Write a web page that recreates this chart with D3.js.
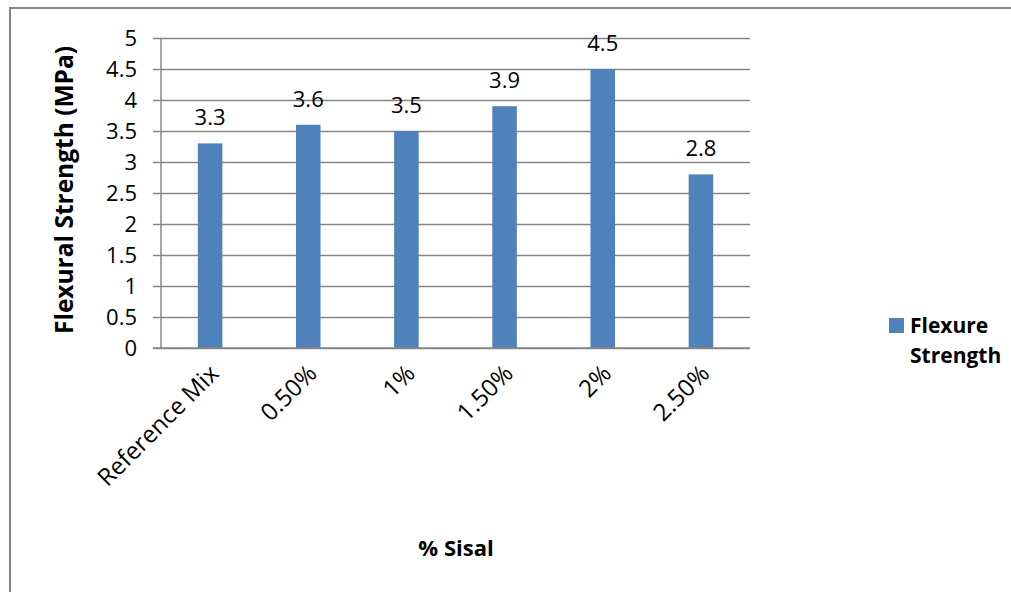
<!DOCTYPE html>
<html>
<head>
<meta charset="utf-8">
<script src="https://cdn.jsdelivr.net/npm/d3@7"></script>
<style>
  body { margin: 0; background: #fff; }
  text { font-family: "Open Sans", "Noto Sans", sans-serif; fill: #000; }
</style>
</head>
<body>
<div id="chart"></div>
<script>
// chart data
var categories = ["Reference Mix", "0.50%", "1%", "1.50%", "2%", "2.50%"];
var flexure = [3.3, 3.6, 3.5, 3.9, 4.5, 2.8];
var yTicks = [0, 0.5, 1, 1.5, 2, 2.5, 3, 3.5, 4, 4.5, 5];
var seriesName = ["Flexure", "Strength"];

const W = 1011, H = 592;
const margin = { top: 38, left: 161, right: 261, bottom: 244 };
const width = W - margin.left - margin.right, height = H - margin.top - margin.bottom;
const grey = "#868686", blue = "#4f81bd";

const svg = d3.select("#chart").append("svg")
  .attr("width", W).attr("height", H);

// outer chart border
svg.append("rect")
  .attr("x", 10).attr("y", 8)
  .attr("width", W + 20).attr("height", H + 20)
  .attr("fill", "none").attr("stroke", grey).attr("stroke-width", 2);

const g = svg.append("g")
  .attr("transform", "translate(" + margin.left + "," + margin.top + ")");

var x = d3.scaleBand().domain(categories).range([0, width]);
var y = d3.scaleLinear().domain([0, 5]).range([height, 0]);

// gridlines + y ticks
g.append("g")
  .call(d3.axisLeft(y).tickValues(yTicks).tickSize(-width).tickFormat(d3.format("")))
  .call(a => a.select(".domain").remove())
  .call(a => a.selectAll("line").attr("stroke", grey).attr("stroke-width", 1.5).attr("x1", -8))
  .call(a => a.selectAll("text").attr("x", -24).attr("dy", "0.35em").style("font-size", "22px"));

// y axis line
g.append("line").attr("x1", 0).attr("x2", 0).attr("y1", 0).attr("y2", height)
  .attr("stroke", grey).attr("stroke-width", 1.5);

// bars
var bw = x.bandwidth() * 0.25;
g.selectAll("rect.bar").data(flexure).enter().append("rect")
  .attr("class", "bar")
  .attr("x", (d, i) => x(categories[i]) + x.bandwidth() / 2 - bw / 2)
  .attr("y", d => y(d))
  .attr("width", bw)
  .attr("height", d => height - y(d))
  .attr("fill", blue);

// x axis line
g.append("line").attr("x1", -8).attr("x2", width).attr("y1", height).attr("y2", height)
  .attr("stroke", grey).attr("stroke-width", 1.5);

// value labels
g.selectAll("text.val").data(flexure).enter().append("text")
  .attr("class", "val")
  .attr("x", (d, i) => x(categories[i]) + x.bandwidth() / 2)
  .attr("y", d => y(d) - 18)
  .attr("text-anchor", "middle")
  .style("font-size", "22px")
  .text(d => d);

// category labels rotated
g.selectAll("text.cat").data(categories).enter().append("text")
  .attr("class", "cat")
  .attr("text-anchor", "end")
  .attr("transform", d => "translate(" + (x(d) + x.bandwidth() / 2 + 10) + "," + (height + 27) + ") rotate(-45)")
  .style("font-size", "24px")
  .text(d => d);

// axis titles
svg.append("text")
  .attr("transform", "translate(73," + (margin.top + 152) + ") rotate(-90)")
  .attr("text-anchor", "middle")
  .style("font-size", "24.5px").style("font-weight", "bold")
  .text("Flexural Strength (MPa)");

svg.append("text")
  .attr("x", 456).attr("y", 556)
  .attr("text-anchor", "middle")
  .style("font-size", "22px").style("font-weight", "bold")
  .text("% Sisal");

// legend
svg.append("rect").attr("x", 889).attr("y", 318).attr("width", 15).attr("height", 15).attr("fill", blue);
svg.selectAll("text.leg").data(seriesName).enter().append("text")
  .attr("class", "leg")
  .attr("x", 910).attr("y", (d, i) => 333 + i * 30)
  .style("font-size", "21px").style("font-weight", "bold")
  .text(d => d);
</script>
</body>
</html>
